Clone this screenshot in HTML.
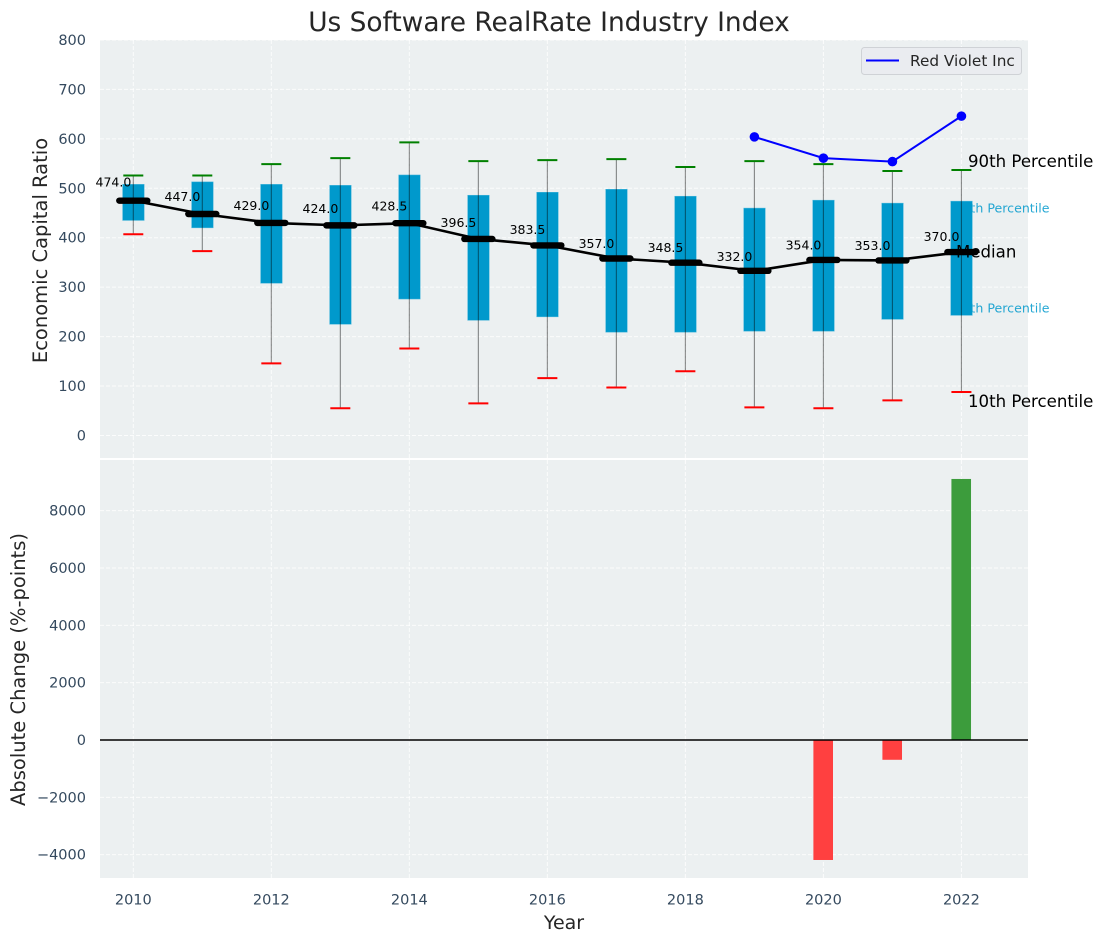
<!DOCTYPE html>
<html lang="en">
<head>
<meta charset="utf-8">
<title>Us Software RealRate Industry Index</title>
<style>
html,body{margin:0;padding:0;background:#fff;width:1103px;height:942px;overflow:hidden}
svg{display:block;font-family:"DejaVu Sans","Liberation Sans",sans-serif}
</style>
</head>
<body>
<svg id="chart" xmlns="http://www.w3.org/2000/svg" width="1103" height="942" viewBox="0 0 1103 942">
  <rect x="100" y="40" width="928" height="418" fill="#ecf0f1"/>
  <rect x="100" y="460" width="928" height="418" fill="#ecf0f1"/>
  <g id="grid"></g>
  <g id="ticks"></g>
  <text x="1049.5" y="212.5" text-anchor="end" font-size="12.6px" fill="#0099cc" fill-opacity="0.85">75th Percentile</text>
  <text x="1049.5" y="312.5" text-anchor="end" font-size="12.6px" fill="#0099cc" fill-opacity="0.85">25th Percentile</text>
  <g id="boxes"></g>
  <g id="medians"></g>
  <g id="company"></g>
  <g id="bars"></g>
  <line x1="100" x2="1028" y1="740" y2="740" stroke="#000" stroke-width="1.4"/>
  <text x="549" y="31" text-anchor="middle" font-size="26.4px" fill="#262626">Us Software RealRate Industry Index</text>
  <text transform="translate(47 250.5) rotate(-90)" text-anchor="middle" font-size="19.5px" fill="#262626">Economic Capital Ratio</text>
  <text transform="translate(25 669.5) rotate(-90)" text-anchor="middle" font-size="19.5px" fill="#262626">Absolute Change (%-points)</text>
  <text x="564" y="929" text-anchor="middle" font-size="19px" fill="#262626">Year</text>
  <text x="968" y="167" font-size="16.6px" fill="#000">90th Percentile</text>
  <text x="956" y="257.5" font-size="16.6px" fill="#000">Median</text>
  <text x="968" y="407" font-size="16.6px" fill="#000">10th Percentile</text>
  <g>
    <rect x="861.5" y="47.5" width="160" height="27" rx="3" fill="#eaecf0" stroke="#cfd2d6" stroke-width="1"/>
    <line x1="866" x2="899" y1="60.5" y2="60.5" stroke="#0000ff" stroke-width="2"/>
    <text x="910" y="66" font-size="15.3px" fill="#262626">Red Violet Inc</text>
  </g>
</svg>
<script>
const years = [2010, 2011, 2012, 2013, 2014, 2015, 2016, 2017, 2018, 2019, 2020, 2021, 2022];
const p90 = [526, 526, 549, 561, 593, 555, 557, 559, 543, 555, 549, 535, 537];
const p75 = [508, 513, 508, 506, 527, 486, 492, 498, 484, 460, 476, 470, 474];
const medians = [474, 447, 429, 424, 428.5, 396.5, 383.5, 357, 348.5, 332, 354, 353, 370];
const p25 = [435, 420, 308, 225, 276, 233, 240, 209, 209, 211, 211, 235, 243];
const p10 = [407, 373, 146, 55, 176, 65, 116, 97, 130, 57, 55, 71, 88];
const companyYears = [2019, 2020, 2021, 2022];
const companyValues = [604, 561, 554, 646];
const changeYears = [2020, 2021, 2022];
const changeValues = [-4185, -690, 9105];
const xTicks = [2010, 2012, 2014, 2016, 2018, 2020, 2022];
const topTicks = [0, 100, 200, 300, 400, 500, 600, 700, 800];
const bottomTicks = [-4000, -2000, 0, 2000, 4000, 6000, 8000];

const NS = 'http://www.w3.org/2000/svg';
const xScale = v => 133.3 + (v - 2010) * 69.01;
const yTop = v => 435.5 - v * 0.4944;
const yBottom = v => 740 - v * 0.02867;

function mk(tag, attrs, parent) {
  const el = document.createElementNS(NS, tag);
  for (const k in attrs) el.setAttribute(k, attrs[k]);
  document.getElementById(parent).appendChild(el);
  return el;
}

const gridStyle = {stroke: '#fff', 'stroke-width': 1, 'stroke-dasharray': '4 2', 'stroke-opacity': 0.8};

/* grid lines */
topTicks.forEach(t => {
  const el = mk('line', Object.assign({x1: 100, x2: 1028, y1: yTop(t), y2: yTop(t)}, gridStyle), 'grid');
  
  
});
bottomTicks.forEach(t => {
  const el = mk('line', Object.assign({x1: 100, x2: 1028, y1: yBottom(t), y2: yBottom(t)}, gridStyle), 'grid');
  
  
});
xTicks.forEach(t => {
  const a = mk('line', Object.assign({x1: xScale(t), x2: xScale(t), y1: 40, y2: 458}, gridStyle), 'grid');
  
  
  const b = mk('line', Object.assign({x1: xScale(t), x2: xScale(t), y1: 460, y2: 878}, gridStyle), 'grid');
  
  
});

/* tick labels */
const tickStyle = {'font-size': '14.5px', fill: '#34495e'};
topTicks.forEach(t => {
  const el = mk('text', Object.assign({x: 86, y: yTop(t) + 5, 'text-anchor': 'end'}, tickStyle), 'ticks');
  
  
  el.textContent = String(t);
});
bottomTicks.forEach(t => {
  const el = mk('text', Object.assign({x: 86, y: yBottom(t) + 5, 'text-anchor': 'end'}, tickStyle), 'ticks');
  
  
  el.textContent = String(t).replace('-', '\u2212');
});
xTicks.forEach(t => {
  const el = mk('text', Object.assign({x: xScale(t), y: 904.5, 'text-anchor': 'middle'}, tickStyle), 'ticks');
  
  
  el.textContent = String(t);
});

/* boxes, whiskers and caps */
years.forEach((yr, i) => {
  const x = xScale(yr);
  const box = mk('rect', {x: x - 10.7, y: yTop(p75[i]), width: 21.6, height: yTop(p25[i]) - yTop(p75[i]), fill: '#0099cc', stroke: '#4db8dc', 'stroke-width': 0.5}, 'boxes');
  
  
  const whisker = mk('line', {x1: x, x2: x, y1: yTop(p90[i]), y2: yTop(p10[i]), stroke: '#000', 'stroke-opacity': 0.45, 'stroke-width': 1.1}, 'boxes');
  
  
  const capHigh = mk('line', {x1: x - 10, x2: x + 10, y1: yTop(p90[i]), y2: yTop(p90[i]), stroke: '#008000', 'stroke-width': 2}, 'boxes');
  
  
  const capLow = mk('line', {x1: x - 10, x2: x + 10, y1: yTop(p10[i]), y2: yTop(p10[i]), stroke: '#ff0000', 'stroke-width': 2}, 'boxes');
  
  
});

/* median line, thick markers and value labels */
const medianPath = mk('polyline', {points: years.map((yr, i) => xScale(yr) + ',' + (yTop(medians[i]) - 0.5)).join(' '), fill: 'none', stroke: '#000', 'stroke-width': 2.6}, 'medians');


years.forEach((yr, i) => {
  const x = xScale(yr);
  const y = yTop(medians[i]) - 0.5;
  const mark = mk('line', {x1: x - 14, x2: x + 14, y1: y, y2: y, stroke: '#000', 'stroke-width': 6.4, 'stroke-linecap': 'round'}, 'medians');
  
  
  const label = mk('text', {x: x - 2, y: yTop(medians[i] * 1.0566) - 1.2, 'text-anchor': 'end', 'font-size': '12.5px', fill: '#000'}, 'medians');
  
  
  label.textContent = medians[i].toFixed(1);
});

/* company series */
const companyLine = mk('polyline', {points: companyYears.map((yr, i) => xScale(yr) + ',' + yTop(companyValues[i])).join(' '), fill: 'none', stroke: '#0000ff', 'stroke-width': 2}, 'company');


companyYears.forEach((yr, i) => {
  const dot = mk('circle', {cx: xScale(yr), cy: yTop(companyValues[i]), r: 4.8, fill: '#0000ff'}, 'company');
  
  
});

/* absolute change bars */
changeYears.forEach((yr, i) => {
  const v = changeValues[i];
  const top = Math.min(yBottom(v), yBottom(0));
  const bar = mk('rect', {x: xScale(yr) - 10, y: top, width: 19.6, height: Math.abs(yBottom(v) - yBottom(0)), fill: v < 0 ? '#ff4040' : '#3c9c3c'}, 'bars');
  
  
});
</script>
</body>
</html>
